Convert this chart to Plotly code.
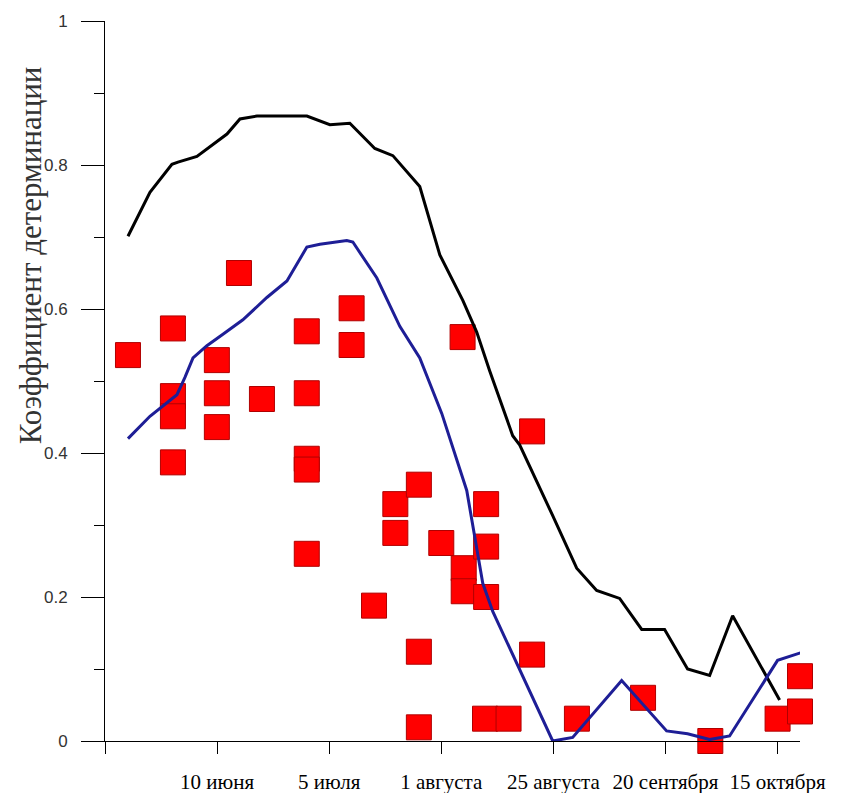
import plotly.graph_objects as go

# x positions are in tick-interval units (0 = axis origin, 1 = "10 июня", ...)
x_tick_vals = [0, 1, 2, 3, 4, 5, 6]
x_tick_text = ["", "10 июня", "5 июля", "1 августа", "25 августа", "20 сентября", "15 октября"]
y_tick_vals = [0, 0.2, 0.4, 0.6, 0.8, 1.0]
y_tick_text = ["0", "0.2", "0.4", "0.6", "0.8", "1"]
y_minor_vals = [0.1, 0.3, 0.5, 0.7, 0.9]

square_x = [0.205, 0.606, 1.195, 0.606, 0.606, 0.606, 0.998, 0.998, 0.998, 1.40,
            1.80, 1.80, 1.80, 1.80, 1.80, 2.20, 2.20, 2.40, 2.59, 2.59,
            2.80, 2.80, 2.80, 3.00, 3.19, 3.20, 3.20, 3.40, 3.40, 3.40,
            3.81, 3.81, 3.39, 3.60, 4.21, 4.80, 5.40, 6.00, 6.20, 6.20]
square_y = [0.536, 0.573, 0.650, 0.479, 0.451, 0.387, 0.529, 0.483, 0.436, 0.475,
            0.569, 0.483, 0.392, 0.377, 0.260, 0.601, 0.550, 0.188, 0.329, 0.289,
            0.356, 0.124, 0.019, 0.275, 0.561, 0.240, 0.208, 0.329, 0.270, 0.200,
            0.430, 0.120, 0.031, 0.031, 0.031, 0.060, 0.000, 0.031, 0.090, 0.041]

black_x = [0.205, 0.401, 0.597, 0.651, 0.820, 0.981, 1.088, 1.204, 1.355, 1.801,
           2.006, 2.184, 2.407, 2.568, 2.808, 2.987, 3.192, 3.316, 3.432, 3.637,
           3.700, 3.994, 4.208, 4.386, 4.591, 4.788, 4.992, 5.197, 5.394, 5.599, 6.018]
black_y = [0.701, 0.762, 0.801, 0.804, 0.812, 0.830, 0.843, 0.864, 0.868, 0.868,
           0.856, 0.858, 0.823, 0.813, 0.770, 0.675, 0.612, 0.568, 0.514, 0.424,
           0.411, 0.313, 0.240, 0.209, 0.198, 0.155, 0.155, 0.100, 0.091, 0.174, 0.057]

blue_x = [0.205, 0.401, 0.642, 0.713, 0.785, 0.909, 1.052, 1.230, 1.444, 1.623,
          1.801, 1.917, 2.157, 2.211, 2.425, 2.630, 2.808, 3.004, 3.227, 3.298,
          3.370, 3.459, 3.700, 3.994, 4.172, 4.609, 5.010, 5.197, 5.394, 5.572,
          6.000, 6.214]
blue_y = [0.420, 0.451, 0.481, 0.505, 0.532, 0.549, 0.565, 0.585, 0.616, 0.639,
          0.686, 0.690, 0.695, 0.693, 0.643, 0.576, 0.532, 0.455, 0.348, 0.286,
          0.219, 0.180, 0.100, 0.000, 0.005, 0.084, 0.014, 0.010, 0.002, 0.007,
          0.112, 0.123]

fig = go.Figure()
fig.add_trace(go.Scatter(
    x=square_x, y=square_y, mode="markers", cliponaxis=False,
    marker=dict(symbol="square", size=25, color="#ff0000",
                line=dict(color="#b00000", width=1))))
fig.add_trace(go.Scatter(
    x=black_x, y=black_y, mode="lines", cliponaxis=False,
    line=dict(color="#000000", width=3)))
fig.add_trace(go.Scatter(
    x=blue_x, y=blue_y, mode="lines", cliponaxis=False,
    line=dict(color="#1e1e96", width=3)))

fig.update_layout(
    width=866, height=793,
    margin=dict(l=97, r=73.5, t=12.7, b=60, pad=0),
    paper_bgcolor="white", plot_bgcolor="white",
    showlegend=False,
    xaxis=dict(
        range=[0, 6.2], showline=True, linecolor="black", linewidth=1,
        showgrid=False, zeroline=False, automargin=False,
        tickmode="array", tickvals=x_tick_vals, ticktext=x_tick_text,
        ticks="outside", ticklen=12, tickcolor="black", tickwidth=1,
        ticklabelstandoff=10,
        tickfont=dict(family="Liberation Serif", size=21, color="black")),
    xaxis2=dict(
        range=[0, 6.2], overlaying="x", anchor="y", side="bottom",
        showline=False, showgrid=False, zeroline=False, automargin=False,
        tickmode="array", tickvals=[0, 2, 4, 6],
        ticks="outside", ticklen=19, tickcolor="black", tickwidth=1,
        showticklabels=False),
    yaxis=dict(
        range=[0, 1], showline=True, linecolor="black", linewidth=1,
        showgrid=False, zeroline=False, automargin=False,
        tickmode="array", tickvals=y_tick_vals, ticktext=y_tick_text,
        ticks="outside", ticklen=23, tickcolor="black", tickwidth=1,
        ticklabelstandoff=10,
        tickfont=dict(family="Liberation Sans", size=17, color="#333333"),
        minor=dict(tickvals=y_minor_vals, ticks="outside", ticklen=10,
                   tickcolor="black", tickwidth=1)),
    annotations=[dict(
        text="Коэффициент детерминации", textangle=-90,
        xref="paper", yref="paper", x=-0.106, y=0.675,
        xanchor="center", yanchor="middle", showarrow=False,
        font=dict(family="Liberation Serif", size=31, color="#333333"))],
)

fig.write_html("out.html")
